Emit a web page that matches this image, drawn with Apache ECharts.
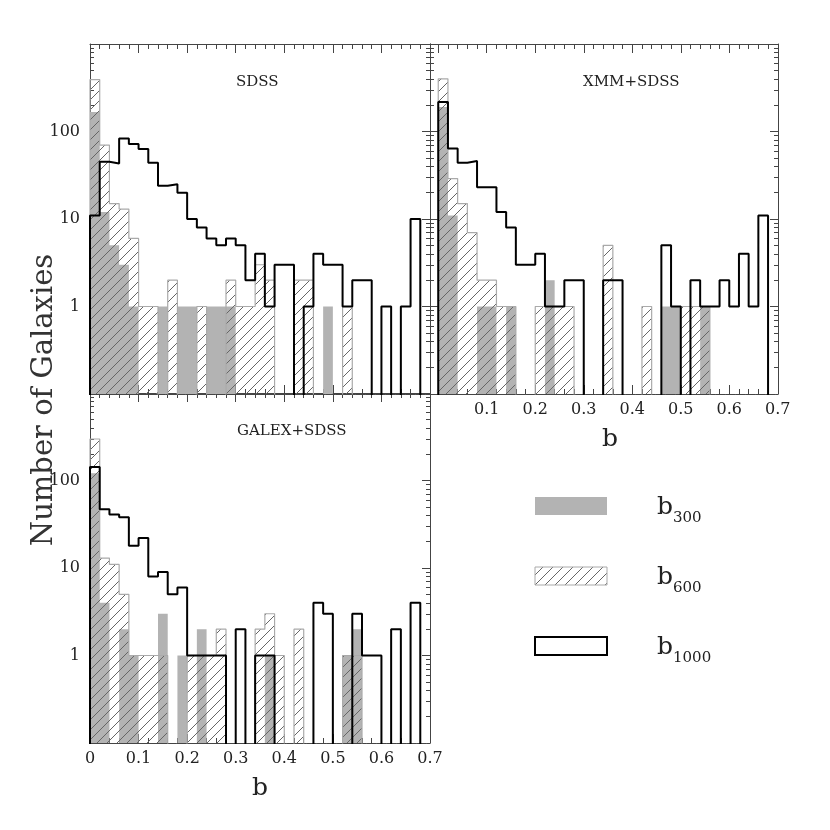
<!DOCTYPE html>
<html><head><meta charset="utf-8">
<script src="https://cdn.jsdelivr.net/npm/echarts@6/dist/echarts.min.js"></script>
<style>html,body{margin:0;padding:0;background:#fff}#c{width:830px;height:830px}</style>
</head><body><div id="c"></div>
<script>
// ---- data ----
const binWidth = 0.02;
const panelTitles = ['SDSS', 'XMM+SDSS', 'GALEX+SDSS'];
const xTickLabels = ['0', '0.1', '0.2', '0.3', '0.4', '0.5', '0.6', '0.7'];
const yTickLabels = ['1', '10', '100'];
const legendLabels = ['300', '600', '1000'];
const yTitle = 'Number of Galaxies';
const xTitle = 'b';

const sdssB300  = [167,12,5,3,1,0,0,1,0,1,1,0,1,1,1,0,0,0,0,0,0,0,0,0,1,0,0,0,0,0,0,0,0,0,0];
const sdssB600  = [392,70,15,13,6,1,1,0,2,0,0,1,0,0,2,1,1,3,2,0,0,2,2,0,0,0,1,0,0,0,0,0,0,0,0];
const sdssB1000 = [11,45,43,83,72,63,44,24,25,20,10,8,6,5,6,5,2,4,1,3,3,0,1,4,3,3,1,2,2,0,1,0,1,10,0];

const xmmB300  = [190,11,0,0,1,1,0,1,0,0,0,2,0,0,0,0,0,0,0,0,0,0,0,1,1,0,0,1,0,0,0,0,0,0,0];
const xmmB600  = [400,29,15,7,2,2,1,1,0,0,1,1,1,1,0,0,0,5,0,0,0,1,0,0,0,1,1,1,0,0,0,0,0,0,0];
const xmmB1000 = [218,64,44,46,23,23,12,8,3,3,4,1,1,2,2,0,0,2,2,0,0,0,0,5,1,0,2,1,1,2,1,4,1,11,0];

const galexB300  = [121,4,0,2,1,0,0,3,0,1,0,2,0,0,0,0,0,0,1,0,0,0,0,0,0,0,1,2,0,0,0,0,0,0,0];
const galexB600  = [298,13,11,5,1,1,1,1,0,0,1,1,1,2,0,0,0,2,3,1,0,2,0,0,0,0,1,1,0,0,0,0,0,0,0];
const galexB1000 = [143,47,41,38,18,22,8,9,5,6,1,1,1,1,0,2,0,1,1,0,0,0,0,4,3,0,0,3,1,1,0,2,0,4,0];

// ---- build ----
const YMIN = 0.1, YMAX = 1000, YOFF = 0.01;
function stepData(vals) {
  const d = [[0, YOFF]];
  vals.forEach((v, i) => d.push([+(i * binWidth).toFixed(2), v > 0 ? v : YOFF]));
  d.push([+(vals.length * binWidth).toFixed(2), YOFF]);
  return d;
}
function hatch() {
  const c = document.createElement('canvas');
  c.width = 10; c.height = 10;
  const g = c.getContext('2d');
  g.strokeStyle = '#666'; g.lineWidth = 1;
  g.beginPath();
  g.moveTo(-1, 11); g.lineTo(11, -1);
  g.moveTo(-1, 1); g.lineTo(1, -1);
  g.moveTo(9, 11); g.lineTo(11, 9);
  g.stroke();
  return c;
}
const hatchPattern = { image: hatch(), repeat: 'repeat' };
const GRAY = '#b3b3b3', HATCH_EDGE = '#aaaaaa', AX = '#444';
const FONT = '"DejaVu Serif", "Liberation Serif", serif';

const majorX = xTickLabels.map(s => +s);
const minorX = [];
for (let k = 1; k < 35; k++) if (k % 5 !== 0) minorX.push(+(k * binWidth).toFixed(2));

const panels = [
  { title: panelTitles[0], b300: sdssB300, b600: sdssB600, b1000: sdssB1000, left: 90, top: 44, width: 340, xmin: 0, xmax: 0.7, xlab: false, ylab: true },
  { title: panelTitles[1], b300: xmmB300, b600: xmmB600, b1000: xmmB1000, left: 430, top: 44, width: 348, xmin: -0.017, xmax: 0.7005, xlab: true, ylab: false, hideZero: true },
  { title: panelTitles[2], b300: galexB300, b600: galexB600, b1000: galexB1000, left: 90, top: 393, width: 340, xmin: 0, xmax: 0.7, xlab: true, ylab: true }
];
const H = 350;

const grid = [], xAxis = [], yAxis = [], series = [], graphic = [];
panels.forEach((p, g) => {
  grid.push({ left: p.left, top: p.top, width: p.width, height: H, containLabel: false });
  const labVals = p.hideZero ? majorX.slice(1) : majorX;
  const xBase = {
    gridIndex: g, type: 'value', min: p.xmin, max: p.xmax,
    axisLine: { show: true, onZero: false, lineStyle: { color: AX, width: 1 } },
    axisTick: { show: true, inside: true, length: 9, lineStyle: { color: AX }, customValues: majorX },
    splitLine: { show: false }
  };
  const xMinor = {
    gridIndex: g, type: 'value', min: p.xmin, max: p.xmax,
    axisLine: { show: false },
    axisTick: { show: true, inside: true, length: 5, lineStyle: { color: AX }, customValues: minorX },
    axisLabel: { show: false }, splitLine: { show: false }
  };
  xAxis.push(Object.assign({}, xBase, {
    position: 'bottom',
    axisLabel: {
      show: p.xlab, margin: 8, fontFamily: FONT, fontSize: 16, color: '#222', customValues: labVals,
      formatter: v => xTickLabels[Math.round(v * 10)]
    }
  }));
  xAxis.push(Object.assign({}, xBase, { position: 'top', axisLabel: { show: false } }));
  xAxis.push(Object.assign({}, xMinor, { position: 'bottom' }));
  xAxis.push(Object.assign({}, xMinor, { position: 'top' }));

  const yBase = {
    gridIndex: g, type: 'log', logBase: 10, min: YMIN, max: YMAX,
    axisLine: { show: true, onZero: false, lineStyle: { color: AX, width: 1 } },
    axisTick: { show: true, inside: true, length: 8, lineStyle: { color: AX } },
    minorTick: { show: true, splitNumber: 9, length: 4, lineStyle: { color: AX } },
    splitLine: { show: false }, minorSplitLine: { show: false }
  };
  yAxis.push(Object.assign({}, yBase, {
    position: 'left',
    axisLabel: {
      show: p.ylab, margin: 10, fontFamily: FONT, fontSize: 16, color: '#222',
      formatter: v => { const s = String(Math.round(v)); return (v >= 1 && v <= 100 && yTickLabels.includes(s)) ? s : ''; }
    }
  }));
  yAxis.push(Object.assign({}, yBase, { position: 'right', axisLabel: { show: false } }));

  const common = { type: 'line', xAxisIndex: 4 * g, yAxisIndex: 2 * g, step: 'end', symbol: 'none', showSymbol: false, animation: false, silent: true };
  series.push(Object.assign({}, common, {
    name: 'b300', data: stepData(p.b300), z: 2,
    lineStyle: { width: 0, color: GRAY }, areaStyle: { color: GRAY, opacity: 1, origin: 'start' }
  }));
  series.push(Object.assign({}, common, {
    name: 'b600', data: stepData(p.b600), z: 3,
    lineStyle: { width: 1.2, color: HATCH_EDGE }, areaStyle: { color: hatchPattern, opacity: 1, origin: 'start' }
  }));
  series.push(Object.assign({}, common, {
    name: 'b1000', data: stepData(p.b1000), z: 4,
    lineStyle: { width: 2, color: '#000' }
  }));
});

const titlePos = [[236, 82], [583, 82], [237, 431]];
panels.forEach((p, g) => {
  graphic.push({ type: 'text', x: titlePos[g][0], y: titlePos[g][1], z: 10,
    style: { text: p.title, font: '15px ' + FONT, fill: '#222', align: 'left', verticalAlign: 'middle' } });
});

// axis titles
graphic.push({ type: 'text', x: 44, y: 400, rotation: Math.PI / 2,
  style: { text: yTitle, font: '29px ' + FONT, fill: '#333', align: 'center', verticalAlign: 'middle' } });
graphic.push({ type: 'text', x: 260, y: 788,
  style: { text: xTitle, font: '25px ' + FONT, fill: '#222', align: 'center', verticalAlign: 'middle' } });
graphic.push({ type: 'text', x: 610, y: 439,
  style: { text: xTitle, font: '25px ' + FONT, fill: '#222', align: 'center', verticalAlign: 'middle' } });

// legend
const legY = [497, 567, 637];
const legStyles = [
  { fill: GRAY, stroke: null, lineWidth: 0 },
  { fill: hatchPattern, stroke: HATCH_EDGE, lineWidth: 1 },
  { fill: '#fff', stroke: '#000', lineWidth: 2 }
];
legY.forEach((y, i) => {
  graphic.push({ type: 'rect', shape: { x: 535, y: y, width: 72, height: 18 }, style: legStyles[i] });
  graphic.push({ type: 'text', x: 657, y: y + 10,
    style: { text: 'b', font: '25px ' + FONT, fill: '#222', align: 'left', verticalAlign: 'middle' } });
  graphic.push({ type: 'text', x: 673, y: y + 21,
    style: { text: legendLabels[i], font: '15px ' + FONT, fill: '#222', align: 'left', verticalAlign: 'middle' } });
});

const chart = echarts.init(document.getElementById('c'), null, { renderer: 'canvas' });
chart.setOption({ animation: false, backgroundColor: '#fff', grid, xAxis, yAxis, series, graphic });
</script>
</body></html>
